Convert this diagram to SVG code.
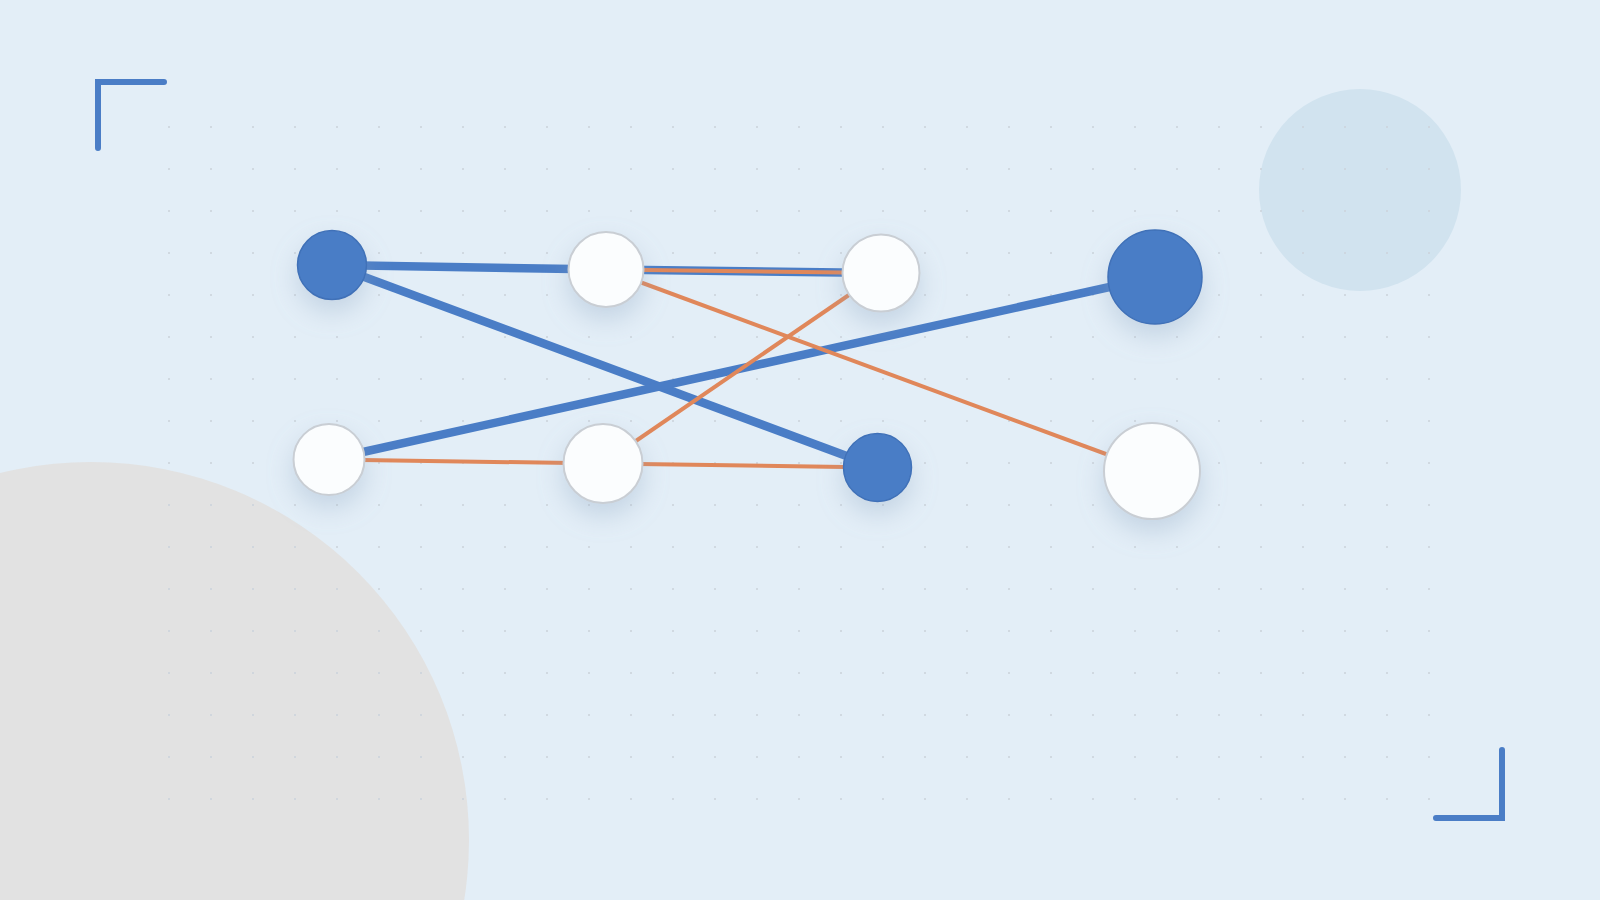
<svg xmlns="http://www.w3.org/2000/svg" width="1600" height="900" viewBox="0 0 1600 900">
  <defs>
    <pattern id="dots" x="148" y="106" width="42" height="42" patternUnits="userSpaceOnUse">
      <circle cx="21" cy="21" r="1.1" fill="#ccd4dc"/>
    </pattern>
    <filter id="shadow" x="-80%" y="-80%" width="260%" height="280%">
      <feDropShadow dx="0" dy="12" stdDeviation="13" flood-color="#8aa4c0" flood-opacity="0.35"/>
    </filter>
    <style>
      .blue-node { fill: #4a7dc6; stroke: #3f71b8; stroke-width: 1.5; filter: url(#shadow); }
      .white-node { fill: #fbfdfe; stroke: #c9ced4; stroke-width: 2; filter: url(#shadow); }
      .edge-blue { stroke: #4a7dc6; stroke-width: 8.5; fill: none; }
      .edge-orange { stroke: #e0875a; stroke-width: 4; fill: none; }
      .bracket { stroke: #4a7dc6; stroke-width: 6; fill: none; stroke-linecap: round; stroke-linejoin: miter; }
    </style>
  </defs>

  <g id="background">
    <rect x="0" y="0" width="1600" height="900" fill="#e3eef7"/>
    <circle cx="91" cy="840" r="378" fill="#e2e2e2"/>
    <circle cx="1360" cy="190" r="101" fill="#d1e3ef"/>
    <rect x="148" y="106" width="1302" height="714" fill="url(#dots)"/>
    <path class="bracket" d="M98,148 V82 H164"/>
    <path class="bracket" d="M1502,750 V818 H1436"/>
  </g>

  <g id="connectors">
    <line class="edge-blue" x1="332" y1="265" x2="606" y2="269.5"/>
    <line class="edge-blue" x1="332" y1="265" x2="877.5" y2="467.5"/>
    <line class="edge-blue" x1="329" y1="459.5" x2="1155" y2="277"/>
    <line class="edge-blue" x1="606" y1="269.5" x2="881" y2="273"/>
    <line class="edge-orange" x1="606" y1="269.5" x2="881" y2="273"/>
    <line class="edge-orange" x1="606" y1="269.5" x2="1152" y2="471"/>
    <line class="edge-orange" x1="881" y1="273" x2="603" y2="463.5"/>
    <line class="edge-orange" x1="329" y1="459.5" x2="603" y2="463.5"/>
    <line class="edge-orange" x1="603" y1="463.5" x2="877.5" y2="467.5"/>
  </g>

  <g id="node-1"><circle class="blue-node" cx="332" cy="265" r="34.5"/></g>
  <g id="node-2"><circle class="white-node" cx="606" cy="269.5" r="37.5"/></g>
  <g id="node-3"><circle class="white-node" cx="881" cy="273" r="38.5"/></g>
  <g id="node-4"><circle class="blue-node" cx="1155" cy="277" r="47"/></g>
  <g id="node-5"><circle class="white-node" cx="329" cy="459.5" r="35.5"/></g>
  <g id="node-6"><circle class="white-node" cx="603" cy="463.5" r="39.5"/></g>
  <g id="node-7"><circle class="blue-node" cx="877.5" cy="467.5" r="34"/></g>
  <g id="node-8"><circle class="white-node" cx="1152" cy="471" r="48"/></g>
</svg>
